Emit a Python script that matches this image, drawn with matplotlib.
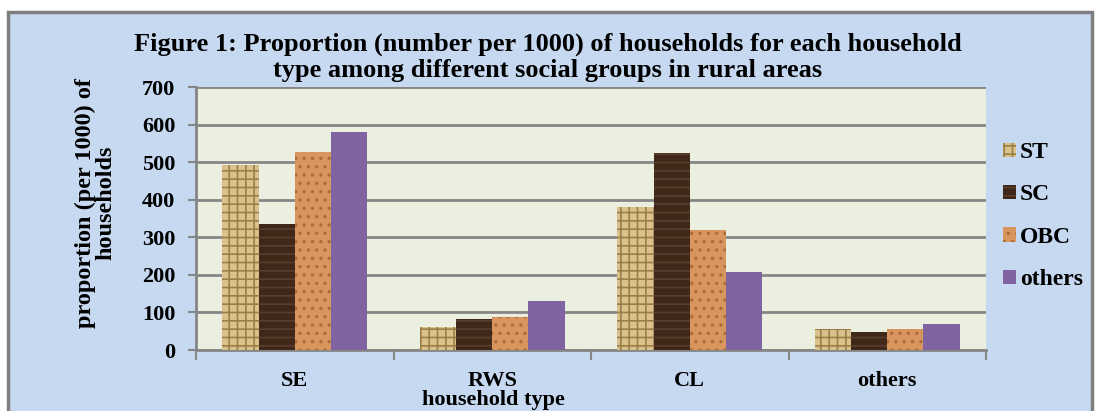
import matplotlib.pyplot as plt
import numpy as np
from matplotlib.patches import Rectangle, Patch

plt.rcParams['font.family'] = ['Liberation Serif', 'DejaVu Serif']
plt.rcParams['font.weight'] = 'bold'
plt.rcParams['hatch.linewidth'] = 1.2

# data
household_types = ['SE', 'RWS', 'CL', 'others']
groups = ['ST', 'SC', 'OBC', 'others']
st_vals = [493, 61, 380, 56]
sc_vals = [335, 82, 524, 48]
obc_vals = [527, 88, 319, 56]
others_vals = [581, 130, 207, 69]
series = [st_vals, sc_vals, obc_vals, others_vals]

face_cols = ['#D9C08C', '#3F2819', '#D8955E', '#8064A2']
hatch_cols = ['#9C7F47', '#5A3E2B', '#B06C38', '#8064A2']
hatches = ['++', '--', '..', None]

fig = plt.figure(figsize=(10.95, 4.11), dpi=100)
fig.patch.set_facecolor('white')

# chart area box
fig.patches.append(Rectangle((8 / 1095, -0.05), 1084 / 1095, 1 - 12 / 411 + 0.05,
                             transform=fig.transFigure, facecolor='#C6D9F1',
                             edgecolor='#7F7F7F', linewidth=2.5, zorder=-5))

ax = fig.add_axes([196 / 1095, 1 - 350 / 411, 790 / 1095, 263 / 411])
ax.set_zorder(2)
ax.set_facecolor('#EBEFDF')

x = np.arange(len(household_types))
w = 0.183
for i, vals in enumerate(series):
    ax.bar(x + (i - 1.5) * w, vals, w, color=face_cols[i], edgecolor=hatch_cols[i],
           linewidth=0, hatch=hatches[i], label=groups[i], zorder=3)

ax.set_xlim(-0.5, 3.5)
ax.set_ylim(0, 700)
ax.set_yticks(range(0, 701, 100))
ax.yaxis.grid(True, color='#868686', linewidth=2, zorder=1)
ax.set_axisbelow(True)

ax.set_xticks([-0.5, 0.5, 1.5, 2.5, 3.5])
ax.set_xticklabels([])
ax.set_xticks(x, minor=True)
ax.set_xticklabels(household_types, minor=True, fontsize=16, fontweight='bold')
ax.tick_params(axis='x', which='minor', length=0, pad=15)
ax.tick_params(axis='x', which='major', length=7, width=1.5, color='#868686', direction='out')
ax.tick_params(axis='y', length=6, width=1.5, color='#868686', labelsize=16, pad=9)

for s in ['top', 'right']:
    ax.spines[s].set_visible(False)
for s in ['left', 'bottom']:
    ax.spines[s].set_color('#868686')
    ax.spines[s].set_linewidth(2)

fig.text(493 / 1095, 1 - 400 / 411, 'household type', ha='center', va='center',
         fontsize=16, fontweight='bold')
fig.text(96 / 1095, 1 - 203 / 411, 'proportion (per 1000) of\nhouseholds', rotation=90,
         ha='center', va='center', fontsize=17.5, fontweight='bold', linespacing=0.95)
fig.text(548 / 1095, 1 - 44 / 411,
         'Figure 1: Proportion (number per 1000) of households for each household',
         ha='center', va='center', fontsize=19, fontweight='bold')
fig.text(548 / 1095, 1 - 71 / 411,
         'type among different social groups in rural areas',
         ha='center', va='center', fontsize=19, fontweight='bold')

handles = [Patch(facecolor=face_cols[i], edgecolor=hatch_cols[i], linewidth=0,
                 hatch=hatches[i]) for i in range(4)]
leg = fig.legend(handles, groups, loc='upper left', bbox_to_anchor=(982 / 1095, 1 - 121 / 411),
                 frameon=False, handlelength=0.55, handleheight=0.55, handletextpad=0.15,
                 labelspacing=0.9, prop={'size': 17, 'weight': 'bold'})

fig.savefig('out.png', dpi=100)
